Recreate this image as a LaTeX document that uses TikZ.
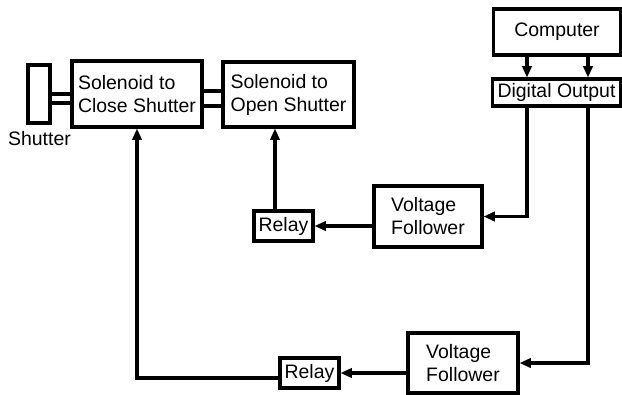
\documentclass[tikz,border=0pt]{standalone}
\usepackage{fontspec}
\setmainfont{Liberation Sans}
\usetikzlibrary{arrows.meta}
\begin{document}
\begin{tikzpicture}[x=0.75pt,y=-0.75pt,
  box/.style={draw,line width=2.3pt,inner sep=0pt,align=left,font=\fontsize{14.6}{17.2}\selectfont},
  lbl/.style={inner sep=0pt,font=\fontsize{14.6}{17.2}\selectfont},
  conn/.style={line width=2.3pt},
  arr/.style={line width=2.3pt,-{Triangle[length=8.5pt,width=7pt]}}]
\useasboundingbox (0,0) rectangle (622,394);
% nodes
\node[box,minimum width=22*0.75pt,minimum height=58*0.75pt] (shutter) at (39,94) {};
\node[lbl] (shutterlbl) at (39.5,139) {Shutter};
\node[box,minimum width=130*0.75pt,minimum height=66*0.75pt] (close) at (137,94) {Solenoid to\\Close Shutter};
\node[box,minimum width=131*0.75pt,minimum height=65*0.75pt] (open) at (288.5,94.5) {Solenoid to\\Open Shutter};
\node[box,minimum width=127*0.75pt,minimum height=46*0.75pt] (computer) at (557,32) {Computer};
\node[box,minimum width=128*0.75pt,minimum height=27*0.75pt] (digital) at (556.5,92.5) {Digital Output};
\node[box,minimum width=108*0.75pt,minimum height=61*0.75pt] (vf1) at (428,216.5) {Voltage\\Follower};
\node[box,minimum width=59*0.75pt,minimum height=30*0.75pt] (relay1) at (283.5,226) {Relay};
\node[box,minimum width=110*0.75pt,minimum height=60*0.75pt] (vf2) at (463,363) {Voltage\\Follower};
\node[box,minimum width=59*0.75pt,minimum height=30*0.75pt] (relay2) at (309.5,373) {Relay};
% helper coordinates
\coordinate (ya) at (0,94);
\coordinate (yb) at (0,103);
\coordinate (yc) at (0,91);
\coordinate (yd) at (0,106);
\coordinate (xa) at (527,0);
\coordinate (xb) at (588,0);
\coordinate (xc) at (275,0);
\coordinate (ye) at (0,378);
% connectors
\draw[conn] (shutter.east |- ya) -- (close.west |- ya);
\draw[conn] (shutter.east |- yb) -- (close.west |- yb);
\draw[conn] (close.east |- yc) -- (open.west |- yc);
\draw[conn] (close.east |- yd) -- (open.west |- yd);
\draw[arr] (xa |- computer.south) -- (xa |- digital.north);
\draw[arr] (xb |- computer.south) -- (xb |- digital.north);
\draw[arr] (xa |- digital.south) |- (vf1.east);
\draw[arr] (xb |- digital.south) |- (vf2.east);
\draw[arr] (vf1.west |- relay1.east) -- (relay1.east);
\draw[arr] (xc |- relay1.north) -- (xc |- open.south);
\draw[arr] (vf2.west |- relay2.east) -- (relay2.east);
\draw[arr] (relay2.west |- ye) -| (close.south);
\end{tikzpicture}
\end{document}
